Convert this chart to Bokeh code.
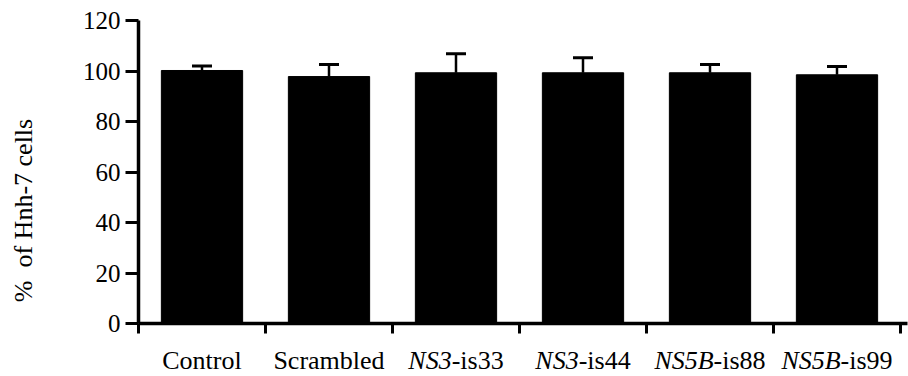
import math
from bokeh.plotting import figure
from bokeh.models import (Range1d, FixedTicker, Whisker, ColumnDataSource,
                          Label, TeeHead)
from bokeh.core.properties import value
from bokeh.embed import file_html
from bokeh.resources import INLINE

# ---- data ----
label_italic = ["", "", "NS3", "NS3", "NS5B", "NS5B"]
label_plain = ["Control", "Scrambled", "-is33", "-is44", "-is88", "-is99"]
means = [100.2, 97.8, 99.3, 99.3, 99.3, 98.5]
errors = [1.8, 4.8, 7.5, 5.9, 3.3, 3.3]
y_ticks = [0, 20, 40, 60, 80, 100, 120]
y_label = "%\u00a0 of Hnh-7 cells"

# ---- layout constants (pixels) ----
W, H = 908, 376
X0_PIX, PX_PER_X = 138, 127.0      # x=0 position, px per category
Y0_PIX, PX_PER_Y = 323, 2.525      # y=0 position, px per unit
LABEL_BASE_PIX = 360               # anchor of category labels
YLAB_CX, YLAB_CY = 23, 210         # centre of y-axis title

FONT = "Liberation Serif"
XFS = 26  # category label font size (px)

# Times / Liberation Serif advance widths (em)
REG_W = {'-': 0.333, 'i': 0.278, 's': 0.389, 'C': 0.667, 'o': 0.5, 'n': 0.5,
         't': 0.278, 'r': 0.333, 'l': 0.278, 'S': 0.556, 'c': 0.444,
         'a': 0.444, 'm': 0.778, 'b': 0.5, 'e': 0.444, 'd': 0.5}
IT_W = {'N': 0.667, 'S': 0.5, 'B': 0.611}


def width(s, table):
    return sum(table.get(ch, 0.5) for ch in s)


def px_to_x(px):
    return (px - X0_PIX) / PX_PER_X


def px_to_y(py):
    return (Y0_PIX - py) / PX_PER_Y


n = len(means)
centers = [i + 0.5 for i in range(n)]
wi = [width(s, IT_W) * XFS for s in label_italic]
wr = [width(s, REG_W) * XFS for s in label_plain]
label_y = px_to_y(LABEL_BASE_PIX)

src = ColumnDataSource(dict(
    x=centers, top=means, upper=[m + e for m, e in zip(means, errors)],
    pl=label_plain,
    pl_off=[(a - b) / 2 for a, b in zip(wi, wr)],
    ly=[label_y] * n,
))
has_it = [i for i in range(n) if label_italic[i]]
it_src = ColumnDataSource(dict(
    x=[centers[i] for i in has_it],
    it=[label_italic[i] for i in has_it],
    it_off=[-(wi[i] + wr[i]) / 2 for i in has_it],
    ly=[label_y] * len(has_it),
))

p = figure(width=W, height=H, output_backend="svg", toolbar_location=None,
           x_range=Range1d(px_to_x(0), px_to_x(W)),
           y_range=Range1d(px_to_y(H), px_to_y(0)),
           min_border=0, min_border_left=0, min_border_right=0,
           min_border_top=0, min_border_bottom=0)
p.outline_line_color = None
p.xgrid.visible = False
p.ygrid.visible = False
p.background_fill_color = "white"
p.border_fill_color = "white"

p.vbar(x="x", top="top", width=0.64, bottom=0, source=src,
       fill_color="black", line_color="black")

w = Whisker(source=src, base="x", upper="upper", lower="top",
            dimension="height", line_width=2.5, line_color="black",
            upper_head=TeeHead(size=20, line_width=3, line_color="black"),
            lower_head=None)
p.add_layout(w)

# y axis, pinned at x=0 and limited to 0..120
ya = p.yaxis[0]
ya.fixed_location = 0
ya.bounds = (y_ticks[0], y_ticks[-1])
ya.ticker = FixedTicker(ticks=y_ticks)
ya.axis_line_width = 3.5
ya.major_tick_line_width = 3
ya.major_tick_out = 13
ya.major_tick_in = 0
ya.minor_tick_line_color = None
ya.major_label_text_font = FONT
ya.major_label_text_font_size = "25px"
ya.major_label_text_color = "black"
ya.major_label_standoff = 5
ya.axis_line_color = "black"
ya.major_tick_line_color = "black"

# x axis, pinned at y=0; ticks at category boundaries
xa = p.xaxis[0]
xa.fixed_location = 0
xa.bounds = (0, px_to_x(W - 1))
xa.ticker = FixedTicker(ticks=list(range(n + 1)))
xa.major_label_overrides = {i: "" for i in range(n + 1)}
xa.axis_line_width = 3.5
xa.major_tick_line_width = 3
xa.major_tick_out = 10
xa.major_tick_in = 0
xa.minor_tick_line_color = None
xa.axis_line_color = "black"
xa.major_tick_line_color = "black"

# category labels: italic gene part + plain suffix
p.text(x="x", y="ly", text="it", x_offset="it_off", source=it_src,
       text_align="left", text_baseline="alphabetic",
       text_font=value(FONT), text_font_size=f"{XFS}px",
       text_font_style="italic", text_color="black")
p.text(x="x", y="ly", text="pl", x_offset="pl_off", source=src,
       text_align="left", text_baseline="alphabetic",
       text_font=value(FONT), text_font_size=f"{XFS}px",
       text_color="black")

p.add_layout(Label(x=px_to_x(YLAB_CX), y=px_to_y(YLAB_CY), text=y_label,
                   angle=math.pi / 2, text_align="center",
                   text_baseline="middle", text_font=FONT,
                   text_font_size="26px", text_color="black"))

open("out.html", "w").write(file_html(p, INLINE))
